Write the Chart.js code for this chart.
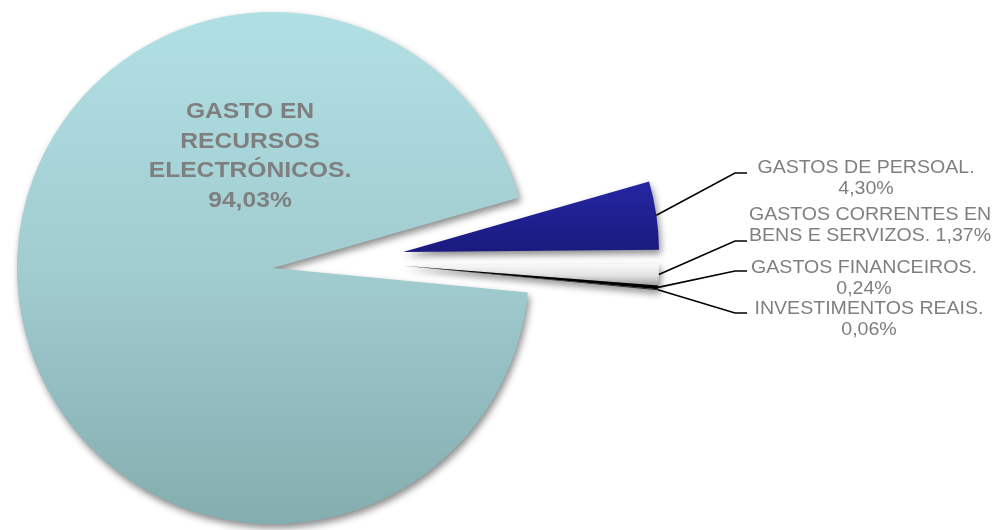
<!DOCTYPE html>
<html>
<head>
<meta charset="utf-8">
<script src="https://cdn.jsdelivr.net/npm/chart.js@4/dist/chart.umd.min.js"></script>
<style>
  html, body { margin: 0; padding: 0; background: #fff; }
  #wrap { width: 998px; height: 530px; position: relative; }
</style>
</head>
<body>
<div id="wrap"><canvas id="chart" width="998" height="530"></canvas></div>
<script>
// Budget split (percent of total), in the order the slices run clockwise.
const CATEGORIES = [
  "GASTOS DE PERSOAL.",
  "GASTOS CORRENTES EN BENS E SERVIZOS.",
  "GASTOS FINANCEIROS.",
  "INVESTIMENTOS REAIS.",
  "GASTO EN RECURSOS ELECTRÓNICOS.",
];
const SHARES = [4.30, 1.37, 0.24, 0.06, 94.03];

// How each label is broken over lines; the percentage goes on its own line
// unless PCT_INLINE says it follows the last text line.
const LABEL_LINES = [
  ["GASTOS DE PERSOAL."],
  ["GASTOS CORRENTES EN", "BENS E SERVIZOS."],
  ["GASTOS FINANCEIROS."],
  ["INVESTIMENTOS REAIS."],
  ["GASTO EN", "RECURSOS", "ELECTRÓNICOS."],
];
const PCT_INLINE = [false, true, false, false, false];

// --- styling / layout ---
const RADIUS = 256;
const ROTATION = 74;                 // first slice starts 16deg above 3 o'clock
const EXPLODE = [131, 130, 130, 130, 0];
const EXPLODE_DIR = [-7, -1, -1, -1, 0];   // degrees, direction of the pull-out
const TEXT_GRAY = "#7f7f7f";
const FONT = '"Liberation Sans", Arial, sans-serif';

// Outside labels: text block centre x, first-line middle y, leader elbow y.
const OUT_LABEL_X = [866, 870, 864, 869];
const OUT_LABEL_Y = [168, 215, 268, 309];
const LEADER_Y = [173, 241, 271, 313];
const LEADER_END_X = 747;
const INSIDE_LABEL = { x: 250, y: 118, step: 29.5 };

const FILLS = [
  [[0, "#2626a3"], [1, "#1a1a80"]],
  [[0, "#fbfbfb"], [0.55, "#e2e2e2"], [1, "#a6a6a6"]],
  [[0, "#000000"], [1, "#000000"]],
  [[0, "#2b2b2b"], [1, "#2b2b2b"]],
  [[0, "#b1e0e4"], [0.5, "#a1ccd0"], [1, "#84adaf"]],
];

const fmtPct = (v) => `${v.toFixed(2).replace(".", ",")}%`;
const rad = (deg) => (deg * Math.PI) / 180;

function labelLines(i) {
  const lines = LABEL_LINES[i].slice();
  const pct = fmtPct(SHARES[i]);
  if (PCT_INLINE[i]) lines[lines.length - 1] += ` ${pct}`;
  else lines.push(pct);
  return lines;
}

// Vertical extent of slice i, following the same angle maths as the pie.
function sliceYRange(chart, i) {
  const area = chart.chartArea;
  const total = SHARES.reduce((a, b) => a + b, 0);
  let start = rad(ROTATION - 90);
  for (let j = 0; j < i; j++) start += (SHARES[j] / total) * Math.PI * 2;
  const end = start + (SHARES[i] / total) * Math.PI * 2;
  const cy = (area.top + area.bottom) / 2 + Math.sin(rad(EXPLODE_DIR[i])) * EXPLODE[i];
  const ys = [cy, cy + RADIUS * Math.sin(start), cy + RADIUS * Math.sin(end)];
  for (let k = -2; k <= 4; k++) {
    const a = (k * Math.PI) / 2;
    if (a > start && a < end && k % 2 !== 0) ys.push(cy + RADIUS * Math.sin(a));
  }
  return [Math.min(...ys), Math.max(...ys)];
}

function sliceFill(c) {
  const chart = c.chart;
  if (!chart.chartArea) return FILLS[c.dataIndex][0][1];
  const [y0, y1] = sliceYRange(chart, c.dataIndex);
  const g = chart.ctx.createLinearGradient(0, y0, 0, y1);
  FILLS[c.dataIndex].forEach(([stop, col]) => g.addColorStop(stop, col));
  return g;
}

// Pull the small slices out to the right without growing their radius.
const explodePlugin = {
  id: "explode",
  afterDatasetUpdate(chart, args) {
    chart.getDatasetMeta(args.index).data.forEach((arc, i) => {
      arc.x += Math.cos(rad(EXPLODE_DIR[i])) * EXPLODE[i];
      arc.y += Math.sin(rad(EXPLODE_DIR[i])) * EXPLODE[i];
    });
  },
};

const shadowPlugin = {
  id: "shadow",
  beforeDatasetsDraw(chart) {
    const ctx = chart.ctx;
    ctx.save();
    ctx.shadowColor = "rgba(0, 0, 0, 0.45)";
    ctx.shadowBlur = 7;
    ctx.shadowOffsetX = 2;
    ctx.shadowOffsetY = 4;
  },
  afterDatasetsDraw(chart) {
    chart.ctx.restore();
  },
};

function drawStretched(ctx, text, x, y, sx) {
  ctx.save();
  ctx.translate(x, y);
  ctx.scale(sx, 1);
  ctx.fillText(text, 0, 0);
  ctx.restore();
}

const labelPlugin = {
  id: "labels",
  afterDraw(chart) {
    const ctx = chart.ctx;
    const arcs = chart.getDatasetMeta(0).data;
    ctx.save();
    ctx.fillStyle = TEXT_GRAY;
    ctx.textAlign = "center";

    // leader lines + outside labels for the small slices
    ctx.strokeStyle = "#000";
    ctx.lineWidth = 1.6;
    ctx.textBaseline = "middle";
    ctx.font = `19px ${FONT}`;
    OUT_LABEL_X.forEach((lx, i) => {
      const arc = arcs[i];
      const mid = (arc.startAngle + arc.endAngle) / 2;
      ctx.beginPath();
      ctx.moveTo(arc.x + Math.cos(mid) * arc.outerRadius, arc.y + Math.sin(mid) * arc.outerRadius);
      ctx.lineTo(LEADER_END_X - 12, LEADER_Y[i]);
      ctx.lineTo(LEADER_END_X, LEADER_Y[i]);
      ctx.stroke();
      labelLines(i).forEach((line, k) => drawStretched(ctx, line, lx, OUT_LABEL_Y[i] + k * 20.8, 1.03));
    });

    // big label inside the main slice
    const main = CATEGORIES.length - 1;
    ctx.textBaseline = "alphabetic";
    ctx.font = `bold 22px ${FONT}`;
    labelLines(main).forEach((line, k) =>
      drawStretched(ctx, line, INSIDE_LABEL.x, INSIDE_LABEL.y + k * INSIDE_LABEL.step, 1.12)
    );
    ctx.restore();
  },
};

new Chart(document.getElementById("chart"), {
  type: "pie",
  data: {
    labels: CATEGORIES,
    datasets: [
      {
        data: SHARES,
        backgroundColor: sliceFill,
        borderWidth: 0,
      },
    ],
  },
  options: {
    responsive: false,
    animation: false,
    events: [],
    radius: RADIUS,
    rotation: ROTATION,
    layout: { padding: { left: 0, right: 452, top: 6, bottom: 0 } },
    plugins: {
      legend: { display: false },
      tooltip: { enabled: false },
    },
  },
  plugins: [explodePlugin, shadowPlugin, labelPlugin],
});
</script>
</body>
</html>
